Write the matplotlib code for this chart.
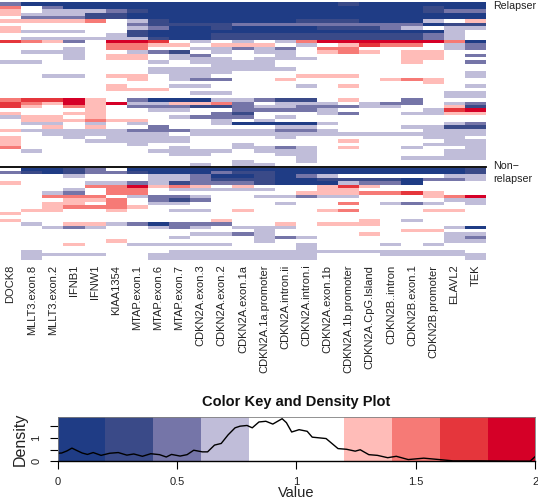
import numpy as np
import matplotlib
matplotlib.use('Agg')
import matplotlib.pyplot as plt
from matplotlib.colors import ListedColormap, BoundaryNorm

plt.rcParams['font.family'] = ['Liberation Sans', 'DejaVu Sans']

genes = ['DOCK8', 'MLLT3.exon.8', 'MLLT3.exon.2', 'IFNB1', 'IFNW1', 'KIAA1354',
         'MTAP.exon.1', 'MTAP.exon.6', 'MTAP.exon.7', 'CDKN2A.exon.3', 'CDKN2A.exon.2',
         'CDKN2A.exon.1a', 'CDKN2A.1a.promoter', 'CDKN2A.intron.ii', 'CDKN2A.intron.i',
         'CDKN2A.exon.1b', 'CDKN2A.1b.promoter', 'CDKN2A.CpG.Island', 'CDKN2B..intron',
         'CDKN2B.exon.1', 'CDKN2B.promoter', 'ELAVL2', 'TEK']

# one character per cell: colour key bin 0-9, '.' is the white middle
relapser = [
    '2000000000000 0001000000',
    '7.20000000000 0000000100',
    '6.33321000000 0000000122',
    '6333110000000 0000000000',
    '.222110000000 0000000000',
    '66667.3100000 01110003.6',
    '......2111122 2222222011',
    '6.....3200100 0011123.33',
    '6333..1000000 000000003.',
    '.....31000111 111111123.',
    '.333333100111 111111123.',
    '8762.998.3.3. 3799999970',
    '.....7766.666 .3.6877.32',
    '...3.77..3323 2.77....32',
    '.333..321.3.3 3.676.66..',
    '...3.66.32... 3.....66.2',
    '...3.66.333.3 33....66..',
    '33.....3.3333 ......6..2',
    '..........333 ..........',
    '.......333333 3.........',
    '.......3333.. .........3',
    '..33.66.33... .666.....3',
    '......6.322.. 6....676..',
    '............. .......6..',
    '.....6..33... .3.6.....3',
    '.....666..... ..........',
    '.........33.. ........33',
    '............. ........33',
    '78896.2000332 11.6..2...',
    '876969336672. 333.322.32',
    '86.76.2221123 322233..61',
    '....6..33..22 223....389',
    '6..66.....21. ..32..3366',
    '366.6...3222. 3.........',
    '.666766...3.3 ..........',
    '.33.3.3...300 003.....32',
    '..6.6..2..... 33....3311',
    '6333332223333 223....333',
    '..333333.3333 3333333333',
    '6..3.3333.... 3......33.',
    '6...33333.... ...6....33',
    '6.....3....3. .......333',
    '7.......3..33 23.6..3..3',
    '.3.....3333.3 33......33',
    '........33... 33......33',
    '............. .3....3333',
    '...........3. .3........',
    '.........3.33 ..........',
]

non_relapser = [
    '.0012.0000000 0000000001',
    '2101221000211 0000000001',
    '...3...332001 023.....33',
    '.......332111 0011110223',
    '6...332312221 0003220...',
    '....779676.6. ..686.....',
    '...3.77.33333 ..66......',
    '..32.77...... .6667786..',
    '..777.3223..3 3233...679',
    '...667.212... ........33',
    '..66.7.33.... 3..7.323.3',
    '..67776...... ..........',
    '.66..6..33.6. ..67...66.',
    '6............ ..........',
    '............. ..........',
    '6.........6.. ....6.3...',
    '.3.66320222.. 6.666.....',
    '..323..323.33 3.......30',
    '............3 ......66..',
    '.........3323 ....6...33',
    '........3...3 23......32',
    '.....6......3 ........33',
    '...6..33333.. .3...3.3..',
    '............. .3........',
    '.3......33333 333333333.',
    '.3333..333333 33...33333',
    '.3.....333333 33.......3',
]

key_colors = ['#1f3c85', '#3a4a88', '#7575a8', '#c0bdd9', '#ffffff',
              '#ffffff', '#ffbcb8', '#f67a76', '#e5363c', '#d50027']
key_edges = [0, 0.2, 0.4, 0.6, 0.8, 1.0, 1.2, 1.4, 1.6, 1.8, 2.0]

density_x = [0.0, 0.017, 0.039, 0.06, 0.078, 0.103, 0.125, 0.149, 0.182, 0.218, 0.254,
             0.29, 0.319, 0.355, 0.39, 0.427, 0.455, 0.477, 0.513, 0.542, 0.57, 0.606,
             0.628, 0.657, 0.685, 0.714, 0.743, 0.764, 0.793, 0.815, 0.843, 0.872, 0.901,
             0.94, 0.958, 0.98, 1.011, 1.045, 1.066, 1.124, 1.174, 1.21, 1.246, 1.267,
             1.303, 1.339, 1.382, 1.418, 1.468, 1.533, 1.598, 1.655, 1.77, 1.914, 1.978, 2.0]
density_y = [0.34, 0.35, 0.44, 0.56, 0.47, 0.35, 0.29, 0.37, 0.25, 0.34, 0.37,
             0.26, 0.31, 0.21, 0.32, 0.28, 0.18, 0.29, 0.22, 0.28, 0.47, 0.40,
             0.40, 0.69, 0.76, 1.13, 1.43, 1.50, 1.53, 1.43, 1.68, 1.71, 1.59,
             1.82, 1.65, 1.25, 1.35, 1.28, 1.03, 0.97, 0.54, 0.51, 0.43, 0.49,
             0.28, 0.25, 0.15, 0.21, 0.07, 0.13, 0.07, 0.015, 0.015, 0.0, 0.0, 0.2]

W, H = 538, 500


def px_axes(fig, left, top, right, bottom):
    return fig.add_axes([left / W, 1 - bottom / H, (right - left) / W, (bottom - top) / H])


def to_matrix(rows):
    values = []
    for row in rows:
        row = row.replace(' ', '')
        values.append([1.0 if c == '.' else 0.1 + 0.2 * int(c) for c in row])
    return np.array(values)


cmap = ListedColormap(key_colors)
norm = BoundaryNorm(key_edges, cmap.N)

fig = plt.figure(figsize=(W / 100, H / 100), dpi=100)

ax_top = px_axes(fig, 0, 2.3, 486, 166.5)
ax_bot = px_axes(fig, 0, 167.5, 486, 259.8)
for ax, rows in [(ax_top, relapser), (ax_bot, non_relapser)]:
    ax.pcolormesh(to_matrix(rows), cmap=cmap, norm=norm)
    ax.set_ylim(len(rows), 0)
    ax.axis('off')

# black separator between the two groups
fig.add_artist(plt.Line2D([0, 486 / W], [1 - 166.9 / H] * 2, color='black', lw=1.3))

ax_bot.axis('on')
for s in ax_bot.spines.values():
    s.set_visible(False)
ax_bot.set_yticks([])
ax_bot.set_xticks(np.arange(len(genes)) + 0.5)
ax_bot.set_xticklabels(genes, rotation=90, fontsize=8.0, color='#222222')
ax_bot.tick_params(axis='x', length=0, pad=3.5)

fig.text(493 / W, 1 - 6 / H, 'Relapser', fontsize=7.7, va='center', ha='left', color='#222222')
fig.text(493 / W, 1 - 172.5 / H, 'Non\u2212\nrelapser', fontsize=7.7, va='center', ha='left',
         linespacing=1.35, color='#222222')

# colour key with density curve on top
ax_key = px_axes(fig, 57.6, 416.6, 535.3, 461.2)
ax_key.pcolormesh(key_edges, [0, 1.91], np.array([key_edges[:-1]]) + 0.1, cmap=cmap, norm=norm)
ax_key.plot(density_x, density_y, color='black', lw=1.0)
ax_key.set_xlim(0, 2)
ax_key.set_ylim(0, 1.91)
ax_key.set_xticks([0, 0.5, 1, 1.5, 2])
ax_key.set_xticklabels(['0', '0.5', '1', '1.5', '2'], fontsize=8.0, color='#222222')
ax_key.set_yticks([0, 0.5, 1, 1.5])
ax_key.set_yticklabels(['0', '', '1', ''], fontsize=8.0, rotation=90, va='center', color='#222222')
ax_key.tick_params(axis='x', length=5.7, width=0.8, pad=5.5)
ax_key.tick_params(axis='y', length=5.7, width=0.8, pad=6)
for side in ['top', 'right', 'left']:
    ax_key.spines[side].set_color('#808080')
    ax_key.spines[side].set_linewidth(0.6)
ax_key.spines['bottom'].set_linewidth(1.0)

fig.text(296.5 / W, 1 - 402 / H, 'Color Key and Density Plot', fontsize=10.5, fontweight='bold',
         ha='center', va='center', color='#111111')
fig.text(296.5 / W, 1 - 496.8 / H, 'Value', fontsize=10.5, ha='center', va='baseline', color='#222222')
fig.text(20 / W, 1 - 439 / H, 'Density', fontsize=11.5, rotation=90, ha='center', va='center',
         color='#222222')

fig.savefig('out.png', dpi=100)
